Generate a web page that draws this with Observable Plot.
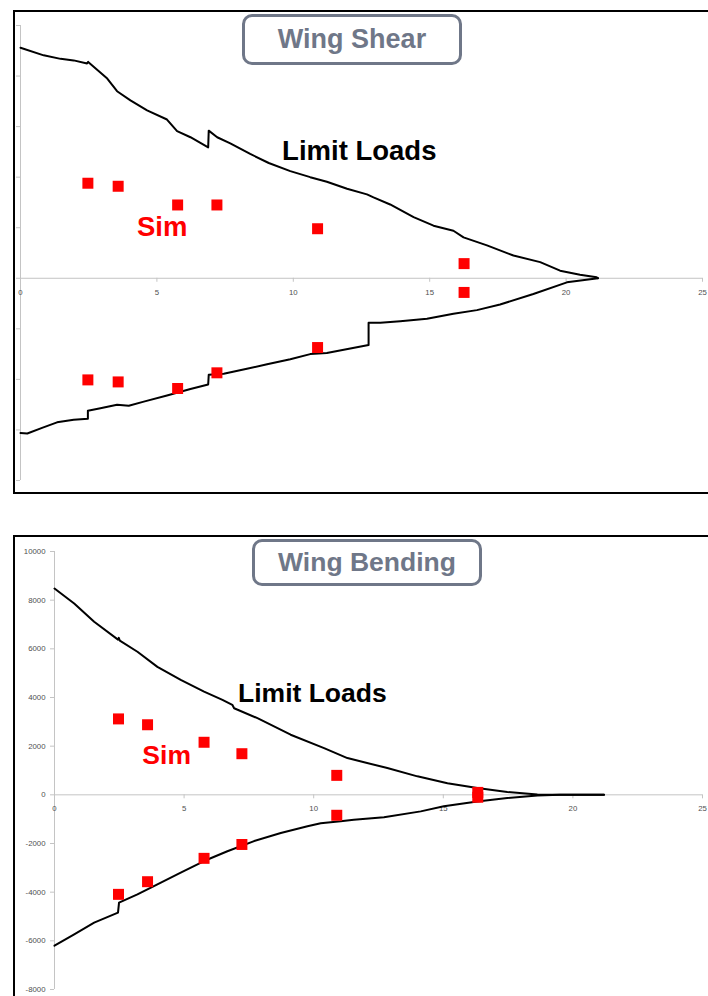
<!DOCTYPE html>
<html><head><meta charset="utf-8">
<script src="https://cdn.jsdelivr.net/npm/d3@7"></script>
<script src="https://cdn.jsdelivr.net/npm/@observablehq/plot@0.6"></script>
<style>
html,body{margin:0;padding:0;background:#fff;}
#wrap{position:relative;width:708px;height:996px;overflow:hidden;background:#fff;font-family:"Liberation Sans",Arial,sans-serif;}
.panel{position:absolute;border:2px solid #000;box-sizing:border-box;}
.title{position:absolute;box-sizing:border-box;border:3px solid #6f7788;border-radius:10px;color:#6f7788;font-weight:bold;display:flex;align-items:center;justify-content:center;background:#fff;}
.chart{position:absolute;left:0;}
</style></head><body>
<div id="wrap">
  <div class="panel" style="left:13px;top:10px;width:730px;height:484px"></div>
  <div class="panel" style="left:13px;top:535px;width:730px;height:480px"></div>
  <div id="shear" class="chart" style="top:0"></div>
  <div id="bend" class="chart" style="top:535px"></div>
  <div class="title" style="left:242px;top:14px;width:220px;height:51px;font-size:27px">Wing Shear</div>
  <div class="title" style="left:252px;top:539px;width:230px;height:47px;font-size:26.5px">Wing Bending</div>
</div>
<script>
// ---------- data ----------
const xTicks = [0, 5, 10, 15, 20, 25];
const shearYTicks = [-4, -3, -2, -1, 0, 1, 2, 3, 4, 5];
const bendYTicks = [-8000, -6000, -4000, -2000, 0, 2000, 4000, 6000, 8000, 10000];

const shearUpperX = [0, 0.85, 1.47, 1.95, 2.44, 2.48, 3.18, 3.54, 4.03, 4.64, 5.37, 5.74, 6.23, 6.88, 6.90, 7.21, 7.69, 8.42, 9.10, 9.89, 10.62, 11.23, 11.97, 12.70, 12.94, 13.55, 14.41, 15.14, 15.87, 16.24, 17.10, 18.07, 19.05, 19.78, 20.51, 21.12, 21.17];
const shearUpperY = [4.56, 4.41, 4.34, 4.31, 4.25, 4.28, 3.95, 3.70, 3.52, 3.32, 3.14, 2.91, 2.79, 2.59, 2.92, 2.79, 2.67, 2.46, 2.28, 2.12, 2.00, 1.91, 1.77, 1.66, 1.60, 1.46, 1.21, 1.04, 0.94, 0.81, 0.65, 0.45, 0.32, 0.15, 0.07, 0.02, 0];
const shearLowerX = [0, 0.25, 0.79, 1.34, 1.95, 2.47, 2.47, 2.93, 3.54, 3.97, 4.52, 5.37, 6.23, 6.88, 6.90, 7.45, 8.30, 9.04, 9.89, 10.62, 11.23, 12.09, 12.76, 12.76, 13.19, 13.92, 14.90, 15.87, 16.73, 17.58, 18.80, 20.03, 21.17];
const shearLowerY = [-3.06, -3.07, -2.96, -2.85, -2.80, -2.78, -2.62, -2.57, -2.50, -2.52, -2.44, -2.32, -2.19, -2.10, -1.91, -1.89, -1.79, -1.70, -1.60, -1.50, -1.48, -1.39, -1.32, -0.88, -0.88, -0.85, -0.80, -0.70, -0.63, -0.52, -0.31, -0.08, 0];
const shearSimX = [2.47, 3.58, 5.76, 7.20, 10.89, 16.26];
const shearSimUpper = [1.88, 1.82, 1.45, 1.45, 0.98, 0.29];
const shearSimLower = [-2.01, -2.05, -2.18, -1.87, -1.37, -0.28];

const bendUpperX = [0, 0.76, 1.53, 2.45, 2.48, 2.52, 3.20, 3.97, 4.87, 5.77, 6.48, 6.86, 6.93, 7.83, 9.11, 10.40, 11.30, 12.84, 14.00, 15.16, 16.31, 17.47, 18.63, 19.5, 21.2];
const bendUpperY = [8480, 7860, 7110, 6380, 6450, 6340, 5880, 5260, 4720, 4240, 3900, 3700, 3560, 3150, 2470, 1920, 1510, 1100, 760, 480, 280, 115, 10, 0, 0];
const bendLowerX = [0, 0.76, 1.53, 2.45, 2.49, 3.20, 3.97, 4.87, 5.77, 6.67, 7.70, 8.73, 9.76, 10.27, 11.04, 11.55, 12.71, 14.13, 15.02, 16.31, 17.47, 18.63, 19.5, 21.2];
const bendLowerY = [-6200, -5730, -5250, -4840, -4430, -4090, -3680, -3200, -2720, -2320, -1900, -1570, -1290, -1170, -1090, -1020, -920, -680, -470, -270, -130, -30, 0, 0];
const bendSimX = [2.47, 3.59, 5.77, 7.23, 10.89, 16.33];
const bendSimUpper = [3120, 2880, 2160, 1690, 800, 100];
const bendSimLower = [-4090, -3570, -2610, -2040, -840, -100];

const labelText = ["Limit Loads", "Sim"];
const shearLabelX = [9.59, 4.27];
const shearLabelY = [2.34, 0.83];
const bendLabelX = [7.08, 3.39];
const bendLabelY = [3830, 1278];

// ---------- helpers ----------
const zip = (xs, ys) => xs.map((x, i) => ({x, y: ys[i]}));
const AXIS = "#c4c4c4";
const TICKTXT = "#505050";
const FONT = "'Liberation Sans', Arial, sans-serif";

function chart({width, height, margins, yDomain, yTicks, showYLabels, upper, lower, simX, simUp, simLo, labX, labY, fontSize}) {
  const labels = labelText.map((t, i) => ({t, x: labX[i], y: labY[i]}));
  return Plot.plot({
    width, height,
    marginLeft: margins[0], marginRight: margins[1], marginTop: margins[2], marginBottom: margins[3],
    style: {background: "transparent", fontFamily: FONT, overflow: "visible"},
    x: {domain: [0, 25], axis: null, label: null},
    y: {domain: yDomain, label: null},
    marks: [
      Plot.ruleY([0], {stroke: AXIS, strokeWidth: 1}),
      Plot.ruleX([0], {y1: d3.min(yTicks), y2: d3.max(yTicks), stroke: AXIS, strokeWidth: 1}),
      Plot.axisY(yTicks, {
        tickSize: 4, tickPadding: 5, stroke: AXIS, fill: TICKTXT, fontSize: 7.8,
        tickFormat: showYLabels ? (d => String(d)) : (() => ""), label: null
      }),
      Plot.ruleX(xTicks, {x: d => d, y1: 0, y2: 0, insetBottom: -4, stroke: AXIS}),
      Plot.text(xTicks, {x: d => d, y: 0, dy: 14, text: d => String(d), fontSize: 7.8, fill: TICKTXT}),
      Plot.line(zip(upper[0], upper[1]), {x: "x", y: "y", stroke: "#000", strokeWidth: 2}),
      Plot.line(zip(lower[0], lower[1]), {x: "x", y: "y", stroke: "#000", strokeWidth: 2}),
      Plot.dot(zip(simX, simUp), {x: "x", y: "y", symbol: "square", r: 6.2, fill: "#ff0000", stroke: null}),
      Plot.dot(zip(simX, simLo), {x: "x", y: "y", symbol: "square", r: 6.2, fill: "#ff0000", stroke: null}),
      Plot.text(labels, {x: "x", y: "y", text: "t", textAnchor: "start", lineAnchor: "bottom",
        fontSize: fontSize, fontWeight: "bold",
        fill: d => d.t === "Sim" ? "#ff0000" : "#000"})
    ]
  });
}

document.getElementById("shear").appendChild(chart({
  width: 708, height: 495, margins: [20, 6, 25, 15],
  yDomain: [-4, 5], yTicks: shearYTicks, showYLabels: false,
  upper: [shearUpperX, shearUpperY], lower: [shearLowerX, shearLowerY],
  simX: shearSimX, simUp: shearSimUpper, simLo: shearSimLower,
  labX: shearLabelX, labY: shearLabelY, fontSize: 27.5
}));

document.getElementById("bend").appendChild(chart({
  width: 708, height: 461, margins: [54, 6, 16, 7],
  yDomain: [-8000, 10000], yTicks: bendYTicks, showYLabels: true,
  upper: [bendUpperX, bendUpperY], lower: [bendLowerX, bendLowerY],
  simX: bendSimX, simUp: bendSimUpper, simLo: bendSimLower,
  labX: bendLabelX, labY: bendLabelY, fontSize: 26.5
}));
</script>
</body></html>
